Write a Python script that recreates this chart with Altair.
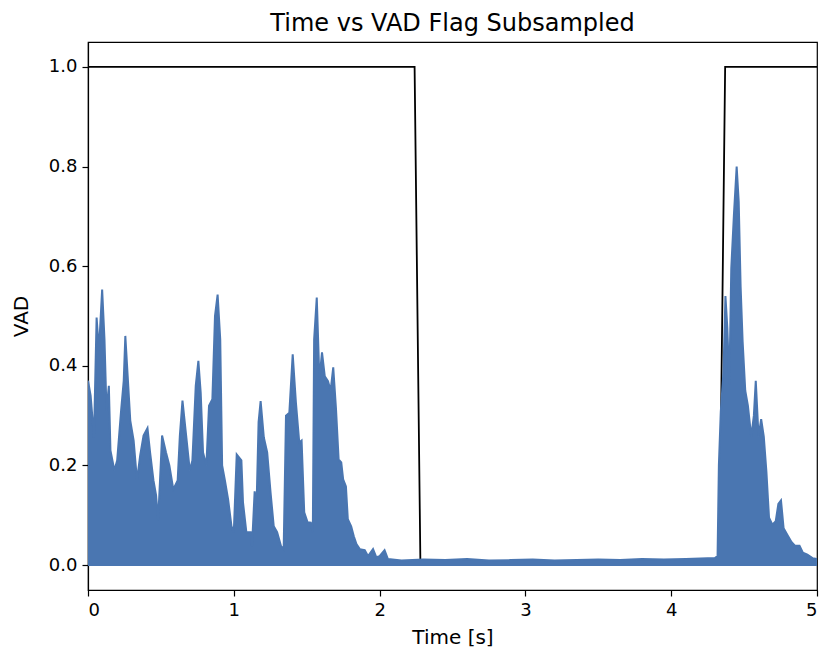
import altair as alt
import pandas as pd

# Envelope of the |signal| (time in s, amplitude)
time_s = [
    0.0, 0.018, 0.041, 0.059, 0.075, 0.097, 0.113, 0.127, 0.143, 0.154,
    0.181, 0.2, 0.227, 0.245, 0.256, 0.272, 0.29, 0.313, 0.336, 0.358,
    0.381, 0.408, 0.426, 0.449, 0.467, 0.481, 0.494, 0.508, 0.535, 0.558,
    0.585, 0.615, 0.63, 0.648, 0.671, 0.698, 0.716, 0.739, 0.757, 0.773,
    0.789, 0.812, 0.83, 0.853, 0.871, 0.889, 0.907, 0.92, 0.939, 0.961,
    0.984, 1.0, 1.02, 1.052, 1.063, 1.086, 1.116, 1.125, 1.143, 1.156,
    1.17, 1.184, 1.206, 1.229, 1.252, 1.274, 1.297, 1.324, 1.342, 1.358,
    1.381, 1.404, 1.426, 1.449, 1.465, 1.483, 1.506, 1.528, 1.542, 1.551,
    1.569, 1.587, 1.605, 1.624, 1.646, 1.664, 1.682, 1.701, 1.719, 1.737,
    1.75, 1.769, 1.782, 1.805, 1.823, 1.841, 1.864, 1.898, 1.921, 1.955,
    1.977, 2.0, 2.034, 2.057,
    2.15, 2.3, 2.45, 2.6, 2.75, 2.9, 3.05, 3.2, 3.35, 3.5, 3.65, 3.8,
    3.95, 4.1, 4.2, 4.3, 4.318,
    4.327, 4.34, 4.359, 4.372, 4.385, 4.399, 4.412, 4.43, 4.449, 4.463,
    4.476, 4.49, 4.508, 4.526, 4.549, 4.567, 4.58, 4.599, 4.617, 4.635,
    4.653, 4.671, 4.694, 4.717, 4.735, 4.753, 4.771, 4.798, 4.826, 4.849,
    4.88, 4.903, 4.934, 4.969, 5.0,
]
amplitude = [
    0.37, 0.34, 0.256, 0.497, 0.43, 0.553, 0.453, 0.31, 0.36, 0.23,
    0.19, 0.21, 0.31, 0.37, 0.46, 0.38, 0.29, 0.25, 0.17, 0.22,
    0.26, 0.275, 0.226, 0.17, 0.14, 0.09, 0.17, 0.26, 0.226, 0.2,
    0.152, 0.17, 0.26, 0.33, 0.266, 0.19, 0.21, 0.36, 0.41, 0.346,
    0.226, 0.2, 0.32, 0.333, 0.5, 0.543, 0.453, 0.2, 0.17, 0.132,
    0.078, 0.066, 0.222, 0.21, 0.126, 0.066, 0.066, 0.038, 0.148, 0.118,
    0.287, 0.329, 0.256, 0.226, 0.146, 0.078, 0.066, 0.038, 0.032, 0.30,
    0.306, 0.423, 0.326, 0.246, 0.25, 0.106, 0.086, 0.085, 0.066, 0.453,
    0.537, 0.373, 0.427, 0.379, 0.369, 0.35, 0.397, 0.313, 0.212, 0.206,
    0.172, 0.158, 0.092, 0.078, 0.058, 0.042, 0.032, 0.03, 0.018, 0.032,
    0.016, 0.018, 0.03, 0.012,
    0.009, 0.011, 0.010, 0.012, 0.009, 0.010, 0.011, 0.009, 0.010, 0.011,
    0.010, 0.012, 0.011, 0.012, 0.013, 0.014, 0.018,
    0.2, 0.307, 0.39, 0.54, 0.476, 0.363, 0.596, 0.702, 0.80, 0.73,
    0.56, 0.448, 0.35, 0.32, 0.258, 0.3, 0.37, 0.258, 0.293, 0.258,
    0.187, 0.095, 0.081, 0.088, 0.123, 0.13, 0.074, 0.06, 0.046, 0.039,
    0.039, 0.025, 0.021, 0.014, 0.012,
]

# VAD flag (subsampled)
flag_time_s = [0.0, 2.24, 2.28, 4.33, 4.37, 5.0]
flag_value = [1.0, 1.0, 0.0, 0.0, 1.0, 1.0]

x_ticks = [0, 1, 2, 3, 4, 5]
y_ticks = [0.0, 0.2, 0.4, 0.6, 0.8, 1.0]

sig = pd.DataFrame({"t": time_s, "v": amplitude})
flag = pd.DataFrame({"t": flag_time_s, "v": flag_value})

FONT = "DejaVu Sans"
BLUE = "#4a76b1"

x_enc = alt.X(
    "t:Q",
    scale=alt.Scale(domain=[0, 5], nice=False, zero=False),
    axis=alt.Axis(values=x_ticks, format="d", title="Time [s]"),
)
y_enc = alt.Y(
    "v:Q",
    scale=alt.Scale(domain=[-0.05, 1.05], nice=False),
    axis=alt.Axis(values=y_ticks, format=".1f", title="VAD"),
)

flag_line = alt.Chart(flag).mark_line(color="black", strokeWidth=1.8, clip=True).encode(
    x=x_enc, y=y_enc
)

signal_area = alt.Chart(sig).mark_area(
    color=BLUE, stroke=BLUE, strokeWidth=2, opacity=1, clip=True, strokeJoin="miter"
).encode(x=x_enc, y=y_enc, y2=alt.datum(0))

chart = (
    alt.layer(flag_line, signal_area)
    .properties(
        width=729,
        height=548,
        autosize=alt.AutoSizeParams(type="none"),
        padding={"left": 80, "top": 34, "right": 4, "bottom": 58},
        title=alt.TitleParams(
            "Time vs VAD Flag Subsampled",
            font=FONT,
            fontSize=24,
            fontWeight="normal",
            color="black",
            anchor="middle",
            offset=6,
        ),
    )
    .configure_view(stroke="black", strokeWidth=1.2)
    .configure_axis(
        grid=False,
        domainColor="black",
        domainWidth=1.2,
        tickColor="black",
        tickWidth=1.2,
        tickSize=6,
        labelFont=FONT,
        labelFontSize=18,
        labelColor="black",
        labelPadding=5,
        titleFont=FONT,
        titleFontSize=20,
        titleFontWeight="normal",
        titleColor="black",
    )
    .configure_axisX(titlePadding=8)
    .configure_axisY(titlePadding=17)
)

chart.save("out.html", embed_options={"renderer": "svg", "actions": False})
